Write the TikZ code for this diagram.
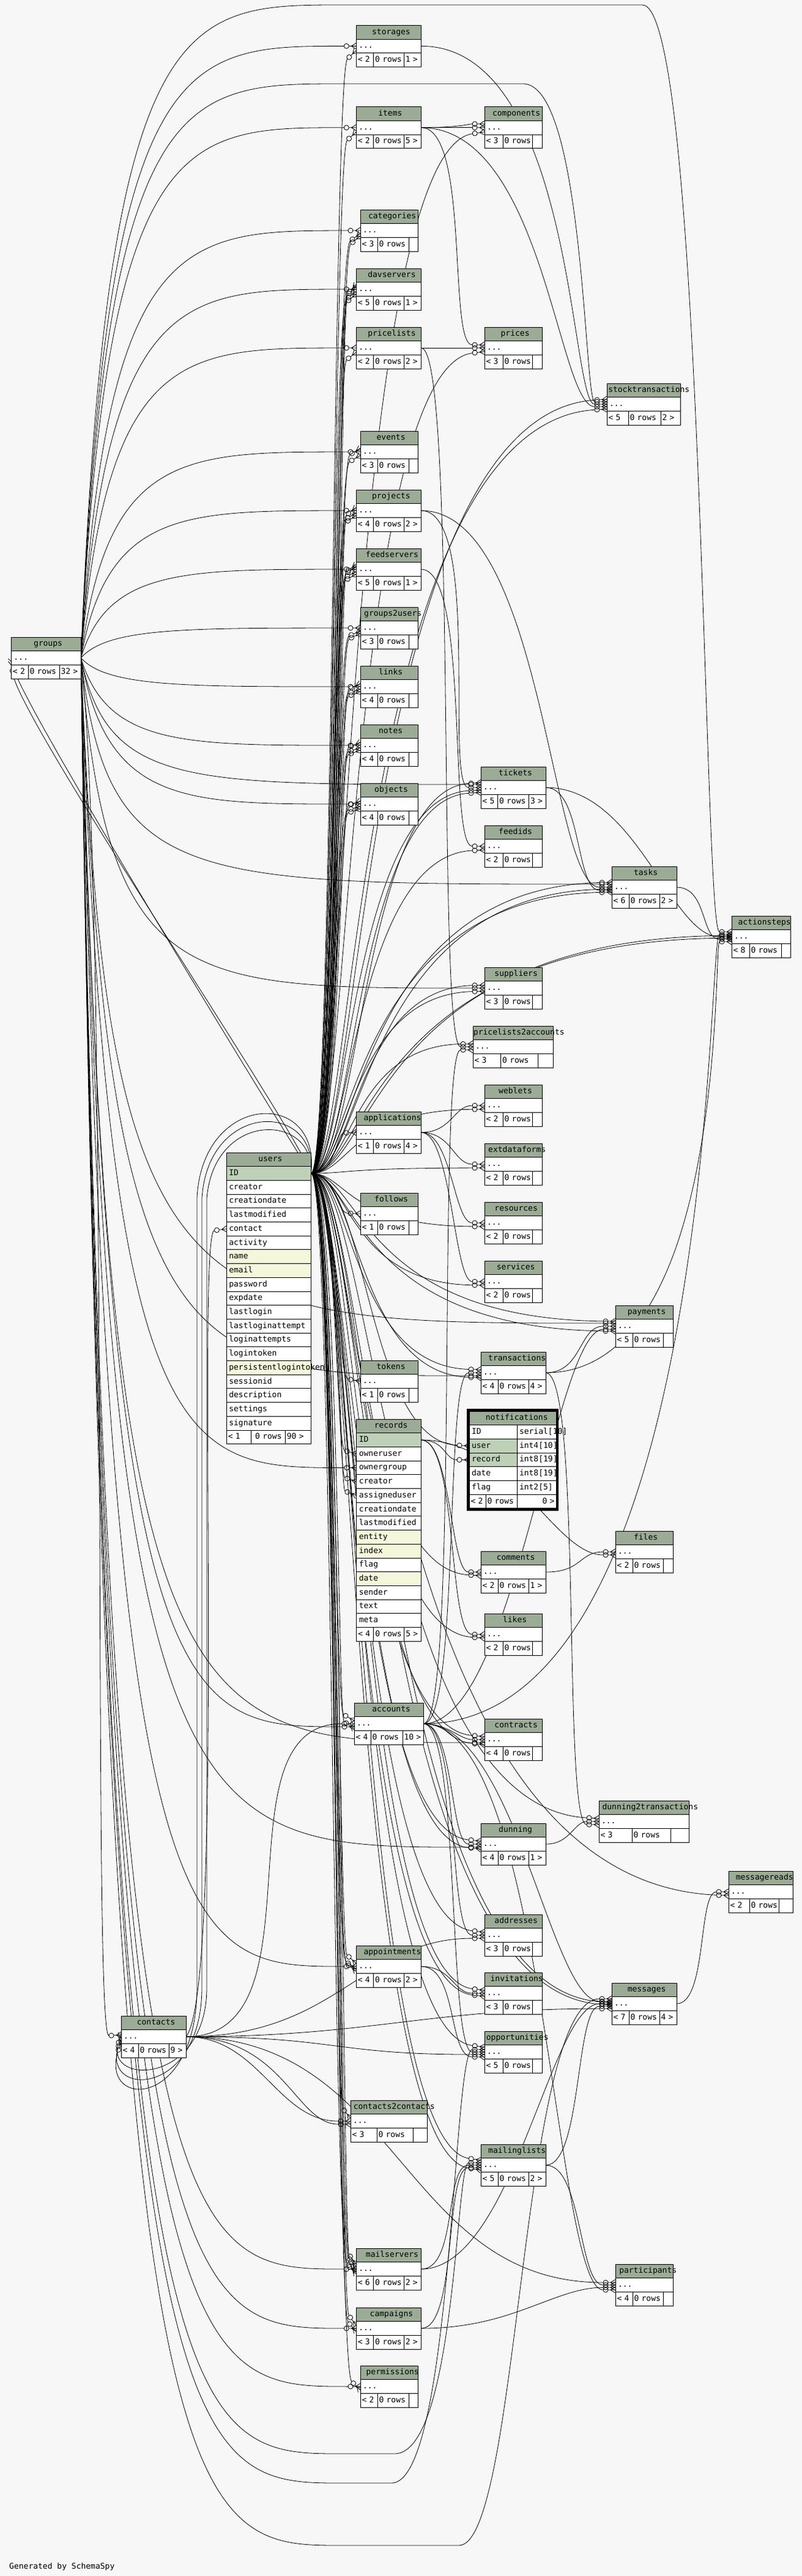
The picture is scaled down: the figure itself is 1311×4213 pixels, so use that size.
\documentclass[tikz,border=0pt]{standalone}
\usepackage{fontspec}
\setmainfont{DejaVu Sans Mono}
\usetikzlibrary{calc}
\pgfdeclarelayer{bgl}
\pgfdeclarelayer{edges}
\pgfsetlayers{bgl,edges,main}
\definecolor{bg}{HTML}{F7F7F7}
\definecolor{hd}{HTML}{9BAB96}
\definecolor{pk}{HTML}{BED1B8}
\definecolor{ix}{HTML}{F4F7DA}
\pgfdeclarearrow{
  name = crowodot,
  setup code = {
    \pgfarrowssettipend{0pt}
    \pgfarrowssetlineend{-20pt}
    \pgfarrowssetbackend{-20pt}
    \pgfarrowshullpoint{0pt}{5pt}
    \pgfarrowshullpoint{0pt}{-5pt}
    \pgfarrowshullpoint{-20pt}{4pt}
    \pgfarrowshullpoint{-20pt}{-4pt}
  },
  drawing code = {
    \pgfsetdash{}{0pt}
    \pgfpathmoveto{\pgfqpoint{0pt}{5pt}}
    \pgfpathlineto{\pgfqpoint{-8pt}{0pt}}
    \pgfpathlineto{\pgfqpoint{0pt}{-5pt}}
    \pgfpathmoveto{\pgfqpoint{0pt}{0pt}}
    \pgfpathlineto{\pgfqpoint{-12pt}{0pt}}
    \pgfusepathqstroke
    \pgfpathcircle{\pgfqpoint{-16pt}{0pt}}{4pt}
    \pgfusepathqstroke
  }
}
\tikzset{
  tbox/.style={draw=black, line width=0.9pt, inner ysep=0pt, minimum height=22.7pt,
    text height=9.5pt, text depth=2.5pt, font={\fontsize{13}{15}\selectfont},
    anchor=north west, outer sep=0pt},
  hdr/.style={tbox, fill=hd, inner xsep=0pt},
  cell/.style={tbox, inner xsep=4pt, align=left},
  fcell/.style={tbox, fill=white, inner xsep=2.5pt, align=left},
  fk/.style={draw=black, line width=0.8pt, arrows={-crowodot}},
}
% header node: text centred as an estimate that is narrower than the real text
\newcommand\hnode[5]{%
  \node[hdr, minimum width=#4pt] (#1) at (#2,#3) {\makebox[#4pt][c]{\makebox[0.868\width][l]{#5}}};}
% column row
\newcommand\colrow[6]{%
  \pgfmathsetmacro\trtw{#4-8}%
  \node[cell, fill=#5, minimum width=#4pt, text width=\trtw pt] (#1) at (#2,#3) {\mbox{#6}};}
% footer cell
\newcommand\fnode[5]{%
  \pgfmathsetmacro\twa{max(1,#4-5)}%
  \node[fcell, minimum width=#4pt, text width=\twa pt] (#1) at (#2,#3) {\mbox{#5}};}
% small table: name, x, y, w, title, f1, f3, d1, d2
\newcommand\stab[9]{%
  \hnode{#1}{#2}{#3}{#4}{#5}%
  \colrow{#1-row}{#2}{#3+22.7}{#4}{white}{...}%
  \pgfmathsetmacro\tmb{#9-#8}%
  \pgfmathsetmacro\tmc{#4-#9}%
  \fnode{#1-fa}{#2}{#3+45.4}{#8}{#6}%
  \fnode{#1-fb}{#2+#8}{#3+45.4}{\tmb}{0 rows}%
  \fnode{#1-fc}{#2+#9}{#3+45.4}{\tmc}{#7}}
% edges
\newcommand\fkU[3]{\draw[fk] (users-ID.east) .. controls (#3,1919) and ($($(#1.west -| O)+(#3,#2)$)!0.02!(users-ID.east)$) .. ($(#1.west)+(0,#2)$);}
\newcommand\fkG[2]{\draw[fk] (groups-row.east) .. controls ($(#1.west -| O)+(175,#2)$) and ($(#1.west -| O)+(300,#2)$) .. ($(#1.west)+(0,#2)$);}
\newcommand\fkGW[4]{\draw[fk] (groups-row.east) .. controls (175,#3) and (300,#3) .. (560,#3) -- (#4-100,#3) .. controls (#4,#3) and ($(#1.west -| O)+(#4,#2)$) .. ($(#1.west)+(0,#2)$);}
\newcommand\fkX[5]{\draw[fk] (#1.east) .. controls +(#3,0) and +(-#4,0) .. ($(#2.west)+(0,#5)$);}

\begin{document}
\begin{tikzpicture}[x=1pt,y=-1pt]
\useasboundingbox (0,0) rectangle (1311,4213);
\coordinate (O) at (0,0);
\begin{pgfonlayer}{bgl}
\fill[bg] (0,0) rectangle (1311,4213);
\end{pgfonlayer}

% ---------------- tables ----------------
\stab{storages}{582.3}{41.3}{106}{storages}{< 2}{1 >}{28.4}{78}
\stab{items}{582.3}{174.7}{106}{items}{< 2}{5 >}{28.4}{78}
\stab{components}{792}{174.7}{94}{components}{< 3}{}{30}{78}
\stab{categories}{589}{343}{94}{categories}{< 3}{}{28}{79}
\stab{davservers}{582.3}{439}{106}{davservers}{< 5}{1 >}{28.4}{78}
\stab{pricelists}{582.3}{535}{106}{pricelists}{< 2}{2 >}{28.4}{78}
\stab{prices}{792}{535}{94}{prices}{< 3}{}{30}{78}
\stab{stocktransactions}{992}{627}{120}{stocktransactions}{< 5}{2 >}{35}{88}
\stab{events}{589}{705}{94}{events}{< 3}{}{28}{79}
\stab{projects}{582.3}{801}{106}{projects}{< 4}{2 >}{28.4}{78}
\stab{feedservers}{582.3}{897}{106}{feedservers}{< 5}{1 >}{28.4}{78}
\stab{groups2users}{589}{993}{94}{groups2users}{< 3}{}{28}{79}
\stab{links}{589}{1089}{94}{links}{< 4}{}{28}{79}
\stab{notes}{589}{1185}{94}{notes}{< 4}{}{28}{79}
\stab{objects}{589}{1281}{94}{objects}{< 4}{}{28}{79}
\stab{groups}{18.4}{1042}{114}{groups}{< 2}{32 >}{27.6}{78.6}
\stab{tickets}{786}{1254}{106}{tickets}{< 5}{3 >}{27.5}{78.5}
\stab{feedids}{792}{1350}{94}{feedids}{< 2}{}{30}{78}
\stab{tasks}{1000}{1417}{106}{tasks}{< 6}{2 >}{28}{78}
\stab{actionsteps}{1196}{1498}{96}{actionsteps}{< 8}{}{29}{81}
\stab{suppliers}{792}{1582}{94}{suppliers}{< 3}{}{30}{78}
\stab{pricelists2accounts}{773}{1678}{131}{pricelists2accounts}{< 3}{}{45.6}{106}
\stab{weblets}{792}{1774}{94}{weblets}{< 2}{}{30}{78}
\stab{applications}{582.3}{1818}{106}{applications}{< 1}{4 >}{28.4}{78}
\stab{extdataforms}{792}{1870}{94}{extdataforms}{< 2}{}{30}{78}
\stab{resources}{792}{1966}{94}{resources}{< 2}{}{30}{78}
\stab{follows}{589}{1951}{94}{follows}{< 1}{}{28}{79}
\stab{services}{792}{2062}{94}{services}{< 2}{}{30}{78}
\stab{payments}{1006}{2135}{94}{payments}{< 5}{}{28}{78}
\stab{transactions}{786}{2211}{106}{transactions}{< 4}{4 >}{28}{78}
\stab{tokens}{589}{2225}{94}{tokens}{< 1}{}{28}{79}
\stab{files}{1006}{2504}{94}{files}{< 2}{}{28}{78}
\stab{comments}{786}{2537}{106}{comments}{< 2}{1 >}{28}{78}
\stab{likes}{792}{2639}{94}{likes}{< 2}{}{30}{78}
\stab{accounts}{579}{2785}{113}{accounts}{< 4}{10 >}{27}{79}
\stab{contracts}{792}{2811}{94}{contracts}{< 4}{}{30}{78}
\stab{dunning2transactions}{979}{2945}{147}{dunning2transactions}{< 3}{}{54}{117}
\stab{dunning}{786}{2982}{106}{dunning}{< 4}{1 >}{28}{78}
\stab{messagereads}{1191}{3060}{105}{messagereads}{< 2}{}{34}{82}
\stab{addresses}{792}{3131}{94}{addresses}{< 3}{}{30}{78}
\stab{appointments}{582.3}{3182}{106}{appointments}{< 4}{2 >}{28.4}{78}
\stab{invitations}{792}{3226}{94}{invitations}{< 3}{}{30}{78}
\stab{messages}{1000}{3243}{106}{messages}{< 7}{4 >}{28}{78}
\stab{contacts}{198}{3297}{106}{contacts}{< 4}{9 >}{28}{78}
\stab{opportunities}{792}{3322}{94}{opportunities}{< 5}{}{30}{78}
\stab{contacts2contacts}{573}{3435}{125}{contacts2contacts}{< 3}{}{43}{102}
\stab{mailinglists}{786}{3507}{106}{mailinglists}{< 5}{2 >}{28}{78}
\stab{mailservers}{582.3}{3677}{106}{mailservers}{< 6}{2 >}{28.4}{78}
\stab{participants}{1006}{3703}{94}{participants}{< 4}{}{28}{78}
\stab{campaigns}{582.3}{3774}{106}{campaigns}{< 3}{2 >}{28.4}{78}
\stab{permissions}{589}{3869}{94}{permissions}{< 2}{}{28}{79}

% users
\hnode{users}{370.3}{1885}{138}{users}
\foreach \n/\f [count=\k] in {ID/pk,creator/white,creationdate/white,lastmodified/white,contact/white,activity/white,name/ix,email/ix,password/white,expdate/white,lastlogin/white,lastloginattempt/white,loginattempts/white,logintoken/white,persistentlogintoken/ix,sessionid/white,description/white,settings/white,signature/white}
  {\colrow{users-\n}{370.3}{1885+22.7*\k}{138}{\f}{\n}}
\fnode{users-fa}{370.3}{2339}{40}{< 1}
\fnode{users-fb}{410.3}{2339}{56}{\ 0 rows}
\fnode{users-fc}{466.3}{2339}{42}{90 >}

% records
\hnode{records}{582.8}{2321}{105.5}{records}
\foreach \n/\f [count=\k] in {ID/pk,owneruser/white,ownergroup/white,creator/white,assigneduser/white,creationdate/white,lastmodified/white,entity/ix,index/ix,flag/white,date/ix,sender/white,text/white,meta/white}
  {\colrow{records-\n}{582.8}{2321+22.7*\k}{105.5}{\f}{\n}}
\fnode{records-fa}{582.8}{2661.5}{28}{< 4}
\fnode{records-fb}{610.8}{2661.5}{50}{0 rows}
\fnode{records-fc}{660.8}{2661.5}{27.5}{5 >}

% notifications
\hnode{notifications}{767}{2308}{142}{notifications}
\foreach \n/\t/\f [count=\k] in {ID/serial[10]/white,user/int4[10]/pk,record/int8[19]/pk,date/int8[19]/white,flag/int2[5]/white}
  {\colrow{notifications-\n}{767}{2308+22.7*\k}{78}{\f}{\n}\colrow{notifications-\n-t}{845}{2308+22.7*\k}{64}{white}{\t}}
\fnode{notifications-fa}{767}{2444.2}{27}{< 2}
\fnode{notifications-fb}{794}{2444.2}{51}{0 rows}
\node[fcell, align=right, minimum width=64pt, text width=59pt] (notifications-fc) at (845,2444.2) {\mbox{0 >}};
\draw[line width=4pt] (765,2306) rectangle (911,2469);

\node[anchor=base west, inner sep=0pt, font={\fontsize{13}{15}\selectfont}] (gen) at (15,4201) {Generated by SchemaSpy};

% ---------------- connectors ----------------
\begin{pgfonlayer}{edges}
\fkG{storages-row}{0} \fkU{storages-row}{7}{545}
\fkG{items-row}{0} \fkU{items-row}{7}{546}
\fkX{items-row}{components-row}{40}{40}{0}
\fkX{items-row}{components-row}{60}{25}{-6}
\fkU{components-row}{7}{565}
\fkG{categories-row}{0} \fkU{categories-row}{5}{547} \fkU{categories-row}{9}{552}
\fkG{davservers-row}{0} \fkU{davservers-row}{4}{544} \fkU{davservers-row}{8}{548} \fkU{davservers-row}{-4}{552} \fkU{davservers-row}{-8}{556}
\fkG{pricelists-row}{0} \fkU{pricelists-row}{7}{549}
\fkX{pricelists-row}{prices-row}{40}{40}{0}
\fkX{items-row}{prices-row}{80}{60}{-5}
\fkU{prices-row}{6}{570}
\fkX{storages-row}{stocktransactions-row}{250}{60}{0}
\fkX{items-row}{stocktransactions-row}{200}{80}{4}
\fkGW{stocktransactions-row}{-4}{137}{955}
\fkU{stocktransactions-row}{8}{580} \fkU{stocktransactions-row}{-8}{590}
\fkG{events-row}{0} \fkU{events-row}{6}{548} \fkU{events-row}{-6}{552}
\fkG{projects-row}{0} \fkU{projects-row}{4}{545} \fkU{projects-row}{8}{550} \fkU{projects-row}{-5}{555}
\fkG{feedservers-row}{0} \fkU{feedservers-row}{4}{544} \fkU{feedservers-row}{8}{548} \fkU{feedservers-row}{-4}{552} \fkU{feedservers-row}{-8}{556}
\fkG{groups2users-row}{0} \fkU{groups2users-row}{5}{549} \fkU{groups2users-row}{9}{553}
\fkG{links-row}{0} \fkU{links-row}{4}{545} \fkU{links-row}{8}{550} \fkU{links-row}{-5}{555}
\fkG{notes-row}{0} \fkU{notes-row}{4}{545} \fkU{notes-row}{8}{550} \fkU{notes-row}{-5}{555}
\fkG{objects-row}{0} \fkU{objects-row}{4}{545} \fkU{objects-row}{8}{550} \fkU{objects-row}{-5}{555}
\draw[fk] (users-ID.east) .. controls (470,1860) and (40,1160) .. (groups-row.west);
\draw[fk] (users-ID.east) .. controls (480,1840) and (30,1175) .. ($(groups-row.west)+(0,5)$);
\fkX{projects-row}{tickets-row}{100}{60}{0}
\fkG{tickets-row}{-5}
\fkU{tickets-row}{4}{570} \fkU{tickets-row}{8}{580} \fkU{tickets-row}{-8}{590}
\fkX{feedservers-row}{feedids-row}{80}{60}{0}
\fkU{feedids-row}{6}{575}
\fkX{projects-row}{tasks-row}{200}{100}{0}
\fkX{tickets-row}{tasks-row}{60}{60}{5}
\fkG{tasks-row}{-5}
\fkU{tasks-row}{8}{575} \fkU{tasks-row}{-8}{585} \fkU{tasks-row}{3}{595}
\fkX{tickets-row}{actionsteps-row}{150}{100}{0}
\fkX{tasks-row}{actionsteps-row}{50}{50}{4}
\fkX{transactions-row}{actionsteps-row}{300}{30}{8}
\fkX{accounts-row}{actionsteps-row}{480}{40}{-4}
\fkGW{actionsteps-row}{-8}{8}{1150}
\fkU{actionsteps-row}{2}{600} \fkU{actionsteps-row}{-2}{610}
\fkG{suppliers-row}{0} \fkU{suppliers-row}{5}{570} \fkU{suppliers-row}{-5}{580}
\fkX{pricelists-row}{pricelists2accounts-row}{60}{60}{0}
\fkX{accounts-row}{pricelists2accounts-row}{60}{60}{5}
\fkU{pricelists2accounts-row}{-5}{575}
\fkU{applications-row}{0}{550}
\fkX{applications-row}{weblets-row}{50}{50}{0} \fkU{weblets-row}{6}{572}
\fkX{applications-row}{extdataforms-row}{50}{50}{0} \fkU{extdataforms-row}{6}{568}
\fkX{applications-row}{resources-row}{50}{50}{0} \fkU{resources-row}{6}{566}
\fkX{applications-row}{services-row}{50}{50}{0} \fkU{services-row}{6}{570}
\fkU{follows-row}{0}{550}
\fkX{transactions-row}{payments-row}{60}{60}{0}
\fkX{accounts-row}{payments-row}{150}{100}{5}
\fkG{payments-row}{-5}
\fkU{payments-row}{8}{580} \fkU{payments-row}{-8}{590}
\fkX{accounts-row}{transactions-row}{60}{60}{0}
\fkG{transactions-row}{5}
\fkU{transactions-row}{-5}{575} \fkU{transactions-row}{8}{585}
\fkU{tokens-row}{0}{550}
\draw[fk] (contacts-row.east) .. controls (370,3250) and (320,2016) .. (users-contact.west);
\fkU{records-owneruser}{0}{550}
\fkG{records-ownergroup}{0}
\fkU{records-creator}{0}{553}
\fkU{records-assigneduser}{0}{556}
\fkU{notifications-user}{0}{600}
\fkX{records-ID}{notifications-record}{40}{40}{0}
\fkX{comments-row}{files-row}{60}{60}{0}
\fkX{records-ID}{files-row}{150}{100}{5}
\fkX{records-ID}{comments-row}{50}{50}{0} \fkU{comments-row}{6}{575}
\fkX{records-ID}{likes-row}{60}{60}{0} \fkU{likes-row}{6}{580}
\fkX{contacts-row}{accounts-row}{230}{230}{0}
\fkG{accounts-row}{5}
\fkU{accounts-row}{-5}{548} \fkU{accounts-row}{8}{553}
\fkX{accounts-row}{contracts-row}{40}{40}{0}
\fkG{contracts-row}{5}
\fkU{contracts-row}{-5}{570} \fkU{contracts-row}{8}{580}
\fkX{dunning-row}{dunning2transactions-row}{40}{40}{0}
\fkX{transactions-row}{dunning2transactions-row}{60}{60}{5}
\fkU{dunning2transactions-row}{-5}{600}
\fkX{accounts-row}{dunning-row}{50}{50}{0}
\fkG{dunning-row}{5}
\fkU{dunning-row}{-5}{570} \fkU{dunning-row}{8}{575}
\fkX{messages-row}{messagereads-row}{50}{50}{0}
\fkU{messagereads-row}{6}{620}
\fkX{accounts-row}{addresses-row}{60}{60}{0}
\fkX{contacts-row}{addresses-row}{250}{200}{5}
\fkU{addresses-row}{-5}{575}
\fkG{appointments-row}{0} \fkU{appointments-row}{4}{546} \fkU{appointments-row}{8}{550} \fkU{appointments-row}{-5}{554}
\fkX{appointments-row}{invitations-row}{50}{50}{0}
\fkU{invitations-row}{5}{570} \fkU{invitations-row}{-5}{580}
\fkX{mailservers-row}{messages-row}{150}{100}{0}
\fkX{mailinglists-row}{messages-row}{60}{60}{4}
\fkX{contacts-row}{messages-row}{300}{300}{8}
\fkX{accounts-row}{messages-row}{150}{100}{-4}
\fkGW{messages-row}{-8}{4163}{850}
\fkU{messages-row}{2}{600} \fkU{messages-row}{-2}{610}
\draw[fk] (groups-row.east) .. controls (180,1500) and (150,3331) .. ($(contacts-row.west)+(0,-3)$);
\draw[fk] (users-ID.east) .. controls (520,1800) and (340,1800) .. (330,1960) -- (330,3250) .. controls (330,3430) and (170,3430) .. (contacts-row.west);
\draw[fk] (users-ID.east) .. controls (525,1780) and (330,1785) .. (322,1960) -- (322,3250) .. controls (322,3450) and (165,3450) .. ($(contacts-row.west)+(0,6)$);
\draw[fk] (users-ID.east) .. controls (515,1820) and (350,1815) .. (338,1960) -- (338,3250) .. controls (338,3410) and (175,3410) .. ($(contacts-row.west)+(0,-6)$);
\fkX{accounts-row}{opportunities-row}{60}{60}{0}
\fkX{contacts-row}{opportunities-row}{250}{250}{4}
\fkX{appointments-row}{opportunities-row}{60}{60}{8}
\fkGW{opportunities-row}{-4}{4061}{740}
\fkU{opportunities-row}{-8}{575}
\fkX{contacts-row}{contacts2contacts-row}{120}{120}{0}
\fkX{contacts-row}{contacts2contacts-row}{160}{90}{5}
\fkU{contacts2contacts-row}{-5}{548}
\fkX{mailservers-row}{mailinglists-row}{60}{60}{0}
\fkX{campaigns-row}{mailinglists-row}{60}{60}{4}
\fkGW{mailinglists-row}{-4}{4013}{745}
\fkU{mailinglists-row}{8}{575} \fkU{mailinglists-row}{-8}{580}
\fkG{mailservers-row}{0} \fkU{mailservers-row}{4}{544} \fkU{mailservers-row}{8}{548} \fkU{mailservers-row}{-4}{552} \fkU{mailservers-row}{-8}{556} \fkU{mailservers-row}{2}{560}
\fkX{mailinglists-row}{participants-row}{60}{60}{0}
\fkX{campaigns-row}{participants-row}{150}{100}{4}
\fkX{contacts-row}{participants-row}{350}{350}{-4}
\fkX{accounts-row}{participants-row}{200}{100}{8}
\fkG{campaigns-row}{0} \fkU{campaigns-row}{5}{550} \fkU{campaigns-row}{-5}{555}
\fkG{permissions-row}{0} \fkU{permissions-row}{6}{550}
\end{pgfonlayer}
\end{tikzpicture}
\end{document}
